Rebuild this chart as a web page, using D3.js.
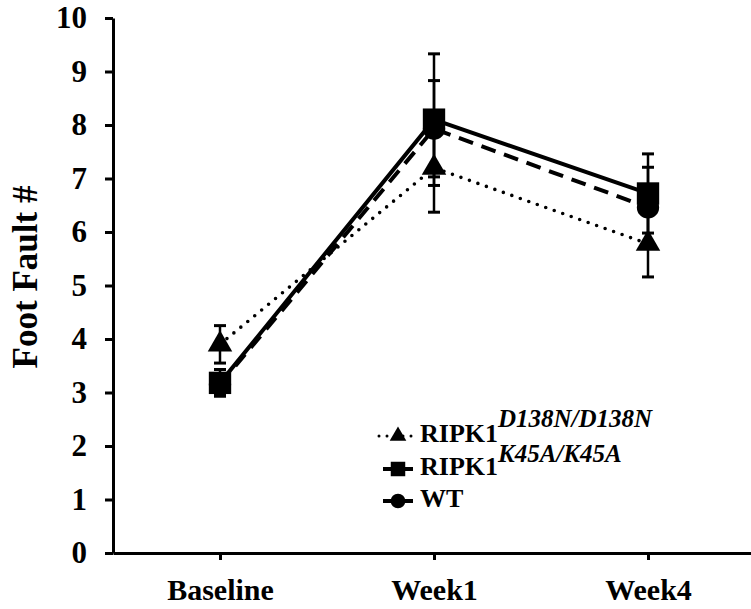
<!DOCTYPE html>
<html>
<head>
<meta charset="utf-8">
<script src="https://cdn.jsdelivr.net/npm/d3@7.9.0/dist/d3.min.js"></script>
<style>
  body { margin: 0; background: #fff; }
</style>
</head>
<body>
<div id="chart"></div>
<script>
// categories and series (mean, error)
const categories = ['Baseline', 'Week1', 'Week4'];
const yTicks = [0, 1, 2, 3, 4, 5, 6, 7, 8, 9, 10];

const d138nMean = [3.9, 7.2, 5.78];
const d138nErr = [0.35, 0.83, 0.62];
const k45aMean = [3.18, 8.1, 6.72];
const k45aErr = [0.25, 1.23, 0.74];
const wtMean = [3.15, 7.93, 6.46];
const wtErr = [0.2, 0.9, 0.75];

const FONT = 'Liberation Serif';

const series = [
  { key: 'WT', mean: wtMean, err: wtErr, symbol: d3.symbolCircle, size: 390, dash: '15 9', cap: 'butt', width: 4 },
  { key: 'K45A', mean: k45aMean, err: k45aErr, symbol: d3.symbolSquare, size: 500, dash: null, cap: 'butt', width: 4 },
  { key: 'D138N', mean: d138nMean, err: d138nErr, symbol: d3.symbolTriangle, size: 260, dash: '0 9', cap: 'round', width: 3.6 }
];

const width = 751;
const height = 609;

const svg = d3.select('#chart')
  .append('svg')
  .attr('width', width)
  .attr('height', height);

const xScale = d3.scalePoint()
  .domain(categories)
  .range([113, 755])
  .padding(0.5);

const yScale = d3.scaleLinear()
  .domain([0, 10])
  .range([553, 18]);

// y axis
const yAxis = svg.append('g')
  .attr('transform', 'translate(113,0)')
  .call(d3.axisLeft(yScale).tickValues(yTicks).tickSize(8).tickSizeOuter(0).tickPadding(18));
yAxis.select('.domain').attr('stroke-width', 3);
yAxis.selectAll('.tick line').attr('stroke-width', 3);
yAxis.selectAll('.tick text')
  .attr('font-family', FONT)
  .attr('font-weight', 'bold')
  .attr('font-size', 31)
  .attr('fill', '#000');

// x axis
const xAxis = svg.append('g')
  .attr('transform', 'translate(0,553)')
  .call(d3.axisBottom(xScale).tickSize(7).tickSizeOuter(0).tickPadding(19));
xAxis.select('.domain').attr('stroke-width', 3);
xAxis.selectAll('.tick line').attr('stroke-width', 3);
xAxis.selectAll('.tick text')
  .attr('font-family', FONT)
  .attr('font-weight', 'bold')
  .attr('font-size', 30)
  .attr('fill', '#000');

// y title
svg.append('text')
  .attr('transform', 'translate(37,277) rotate(-90)')
  .attr('text-anchor', 'middle')
  .attr('font-family', FONT)
  .attr('font-weight', 'bold')
  .attr('font-size', 35)
  .text('Foot Fault #');

const line = d3.line()
  .x((d, i) => xScale(categories[i]))
  .y(d => yScale(d));

// lines
series.forEach(s => {
  svg.append('path')
    .datum(s.mean)
    .attr('d', line)
    .attr('fill', 'none')
    .attr('stroke', '#000')
    .attr('stroke-width', s.width)
    .attr('stroke-dasharray', s.dash)
    .attr('stroke-linecap', s.cap);
});

// error bars
series.forEach(s => {
  const g = svg.append('g');
  s.mean.forEach((m, i) => {
    const x = xScale(categories[i]);
    const lo = yScale(m - s.err[i]);
    const hi = yScale(m + s.err[i]);
    g.append('line').attr('x1', x).attr('x2', x).attr('y1', lo).attr('y2', hi)
      .attr('stroke', '#000').attr('stroke-width', 2.5);
    [lo, hi].forEach(y => {
      g.append('line').attr('x1', x - 6).attr('x2', x + 6).attr('y1', y).attr('y2', y)
        .attr('stroke', '#000').attr('stroke-width', 3);
    });
  });
});

// markers
series.forEach(s => {
  svg.append('g')
    .selectAll('path')
    .data(s.mean)
    .join('path')
    .attr('transform', (d, i) => `translate(${xScale(categories[i])},${yScale(d)})`)
    .attr('d', d3.symbol().type(s.symbol).size(s.size))
    .attr('fill', '#000');
});

// legend
const legendRows = [
  { name: 'RIPK1', sup: 'D138N/D138N', s: series[2], y: 442, supDy: -15, msize: 120 },
  { name: 'RIPK1', sup: 'K45A/K45A', s: series[1], y: 475, supDy: -13, msize: 210 },
  { name: 'WT', sup: null, s: series[0], y: 507, supDy: 0, msize: 170 }
];

const legend = svg.append('g');
legendRows.forEach(r => {
  const cy = r.y - 6;
  const dotted = r.s.dash === '0 9';
  legend.append('line')
    .attr('x1', dotted ? 379 : 383).attr('x2', 413)
    .attr('y1', cy).attr('y2', cy)
    .attr('stroke', '#000')
    .attr('stroke-width', dotted ? 3 : 4)
    .attr('stroke-dasharray', dotted ? '0 8' : null)
    .attr('stroke-linecap', r.s.cap);
  legend.append('path')
    .attr('transform', `translate(398,${cy})`)
    .attr('d', d3.symbol().type(r.s.symbol).size(r.msize))
    .attr('fill', '#000');
  const t = legend.append('text')
    .attr('x', 420)
    .attr('y', r.y)
    .attr('font-family', FONT)
    .attr('font-weight', 'bold')
    .attr('font-size', 26)
    .text(r.name);
  if (r.sup) {
    t.append('tspan')
      .attr('dy', r.supDy)
      .attr('font-style', 'italic')
      .attr('font-size', 25)
      .text(r.sup);
  }
});
</script>
</body>
</html>
